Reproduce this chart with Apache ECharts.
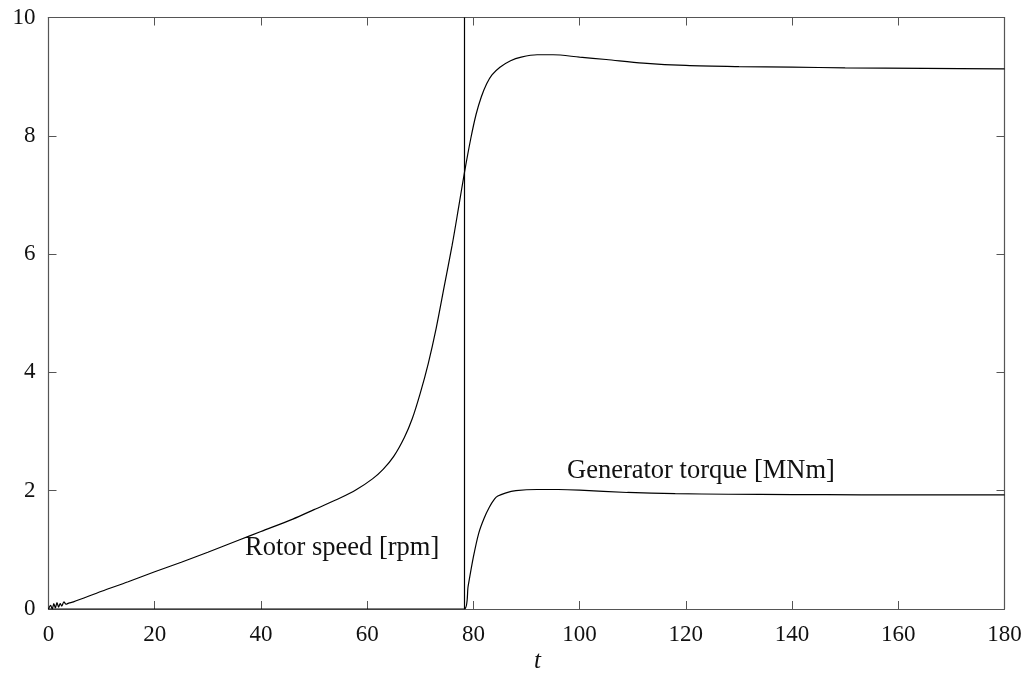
<!DOCTYPE html>
<html>
<head>
<meta charset="utf-8">
<script src="https://cdn.jsdelivr.net/npm/echarts@6/dist/echarts.min.js"></script>
<style>
  html, body { margin: 0; padding: 0; background: #fff; }
  #chart { width: 1027px; height: 677px; }
</style>
</head>
<body>
<div id="chart"></div>
<script>
// rotor speed [rpm] vs t
var speedT = [0, 0.4, 0.7, 1.0, 1.3, 1.6, 1.9, 2.2, 2.5, 2.9, 3.3, 3.8, 4.7, 10, 15, 20, 25, 30, 36, 40, 46, 50, 55, 58, 61, 63, 65, 67, 68.5, 70, 71.5, 73, 74.5, 76, 77.2, 78.3, 79.5, 80.5, 81.5, 82.5, 83.5, 85, 87, 89, 92, 95, 100, 105, 112, 120, 130, 140, 150, 165, 180];
var speedV = [0, 0.06, 0.0, 0.09, 0.02, 0.11, 0.03, 0.09, 0.05, 0.12, 0.08, 0.1, 0.12, 0.3, 0.46, 0.63, 0.79, 0.96, 1.17, 1.31, 1.52, 1.68, 1.88, 2.02, 2.2, 2.36, 2.58, 2.9, 3.22, 3.65, 4.15, 4.75, 5.45, 6.15, 6.78, 7.37, 7.95, 8.36, 8.66, 8.88, 9.03, 9.16, 9.27, 9.33, 9.37, 9.37, 9.33, 9.29, 9.23, 9.19, 9.17, 9.16, 9.15, 9.14, 9.13];

// generator torque [MNm] vs t
var torqueT = [0, 78.3, 79, 80, 81, 82, 83, 84, 84.6, 86, 88, 92, 96, 100, 109, 118, 128, 140, 153, 180];
var torqueV = [0, 0, 0.38, 0.88, 1.28, 1.53, 1.72, 1.86, 1.91, 1.96, 2.0, 2.02, 2.02, 2.01, 1.97, 1.95, 1.94, 1.935, 1.93, 1.93];

var switchT = 78.3;

function pairs(xs, ys) {
    return xs.map(function (x, i) { return [x, ys[i]]; });
}

var chart = echarts.init(document.getElementById('chart'));
var font = '"Liberation Serif", "Times New Roman", serif';
var axisCol = '#555';

function xAx(pos, showLabel) {
    return {
        type: 'value', position: pos, min: 0, max: 180, interval: 20,
        axisLine: { show: true, onZero: false, lineStyle: { color: axisCol, width: 1.2 } },
        axisTick: { show: true, inside: true, length: 8, lineStyle: { color: axisCol } },
        axisLabel: { show: showLabel, margin: 14, color: '#111', fontFamily: font, fontSize: 23 },
        splitLine: { show: false }
    };
}
function yAx(pos, showLabel) {
    return {
        type: 'value', position: pos, min: 0, max: 10, interval: 2,
        axisLine: { show: true, onZero: false, lineStyle: { color: axisCol, width: 1.2 } },
        axisTick: { show: true, inside: true, length: 8, lineStyle: { color: axisCol } },
        axisLabel: { show: showLabel, margin: 13, color: '#111', fontFamily: font, fontSize: 23 },
        splitLine: { show: false }
    };
}

var option = {
    backgroundColor: '#fff',
    animation: false,
    grid: { left: 48.5, right: 22.5, top: 17.5, bottom: 68 },
    xAxis: [xAx('bottom', true), xAx('top', false)],
    yAxis: [yAx('left', true), yAx('right', false)],
    graphic: [
        { type: 'text', left: 245, top: 535, style: { text: 'Rotor speed [rpm]', font: '26.5px ' + font, fill: '#111' } },
        { type: 'text', left: 567, top: 458, style: { text: 'Generator torque [MNm]', font: '26.5px ' + font, fill: '#111' } },
        { type: 'text', left: 534, top: 649, style: { text: 't', font: 'italic 25px ' + font, fill: '#111' } }
    ],
    series: [
        {
            name: 'Rotor speed', type: 'line', data: pairs(speedT, speedV),
            showSymbol: false, smooth: 0.3,
            lineStyle: { color: '#000', width: 1.2 },
            markLine: {
                silent: true, symbol: 'none', label: { show: false },
                lineStyle: { color: '#000', width: 1.2, type: 'solid' },
                data: [{ xAxis: switchT }]
            }
        },
        {
            name: 'Generator torque', type: 'line', data: pairs(torqueT, torqueV),
            showSymbol: false, smooth: 0.25,
            lineStyle: { color: '#000', width: 1.2 }
        }
    ]
};
chart.setOption(option);
</script>
</body>
</html>
